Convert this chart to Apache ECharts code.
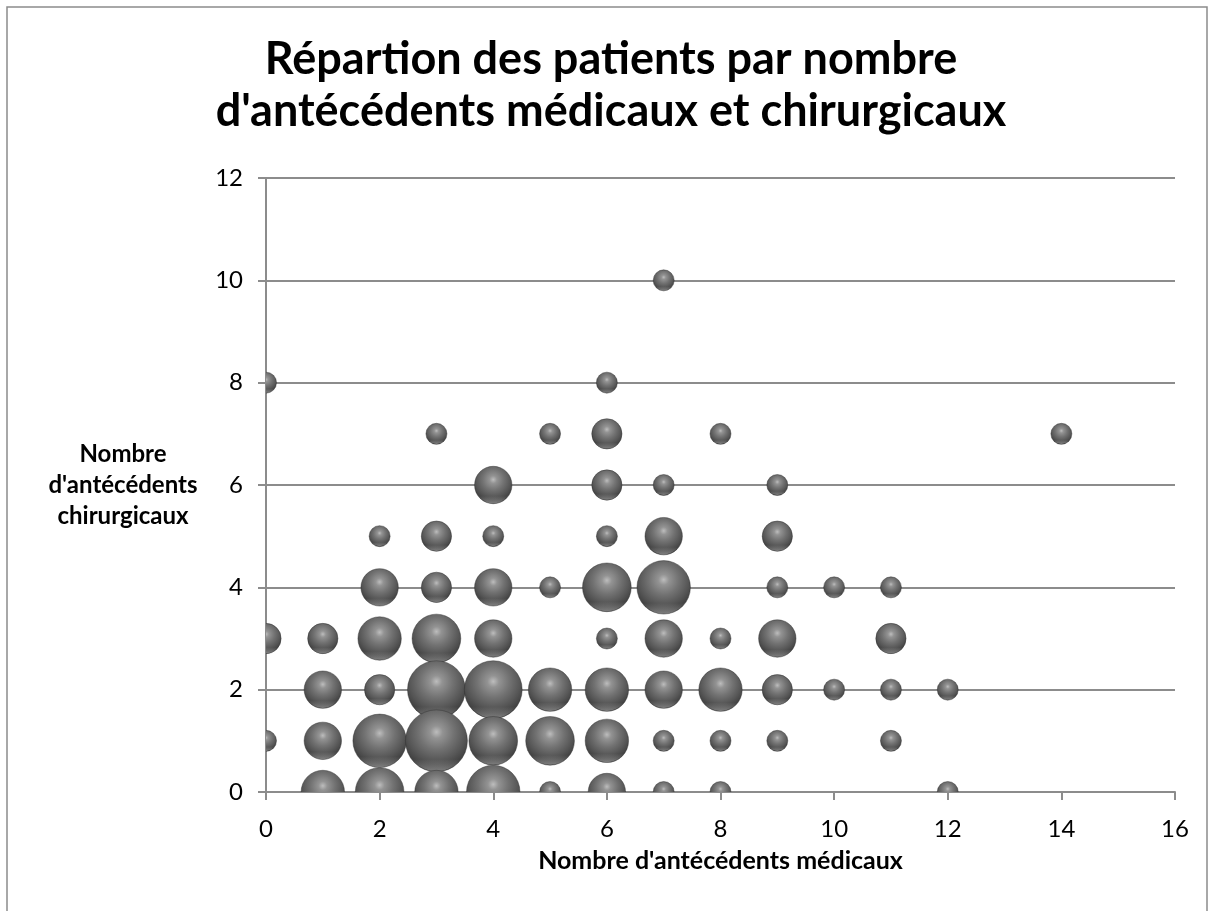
<!DOCTYPE html>
<html>
<head>
<meta charset="utf-8">
<script src="https://cdn.jsdelivr.net/npm/echarts@6/dist/echarts.min.js"></script>
<style>
html,body{margin:0;padding:0;background:#fff;}
#c{width:1214px;height:911px;}
</style>
</head>
<body>
<div id="c"></div>
<script>
// Number of medical history items (x), surgical history items (y), number of patients (bubble size)
const medical  = [0,0,0, 1,1,1,1, 2,2,2,2,2,2, 3,3,3,3,3,3,3, 4,4,4,4,4,4,4, 5,5,5,5,5, 6,6,6,6,6,6,6,6,6, 7,7,7,7,7,7,7,7, 8,8,8,8,8, 9,9,9,9,9,9, 10,10, 11,11,11,11, 12,12, 14];
const surgical = [8,3,1, 3,2,1,0, 5,4,3,2,1,0, 7,5,4,3,2,1,0, 6,5,4,3,2,1,0, 7,4,2,1,0, 8,7,6,5,4,3,2,1,0, 10,6,5,4,3,2,1,0, 7,3,2,1,0, 6,5,4,3,2,1, 4,2, 4,3,2,1, 2,0, 7];
const patients = [1,2,1, 2,3,3,4, 1,3,4,2,6,5, 1,2,2,5,7,8,4, 3,1,3,3,7,5,6, 1,1,4,5,1, 1,2,2,1,5,1,4,4,3, 1,1,3,6,3,3,1,1, 1,1,4,1,1, 1,2,1,3,2,1, 1,1, 1,2,1,1, 1,1, 1];

const titleText = "Répartion des patients par nombre\nd'antécédents médicaux et chirurgicaux";
const xName = "Nombre d'antécédents médicaux";
const yName = "Nombre\nd'antécédents\nchirurgicaux";

const data = medical.map((m, i) => [m, surgical[i], patients[i]]);

function bubbleDiameter(v) { return 22.4 * Math.sqrt(v) - 1.4; }

const FONT = 'Lato';
const AXIS_COLOR = '#8c8c8c';

const sphereFill = new echarts.graphic.RadialGradient(0.5, 0.36, 0.62, [
  { offset: 0, color: '#bdbdbd' },
  { offset: 0.16, color: '#939393' },
  { offset: 0.45, color: '#727272' },
  { offset: 0.75, color: '#555555' },
  { offset: 1, color: '#3a3a3a' }
]);
const rimFill = new echarts.graphic.LinearGradient(0, 0, 0, 1, [
  { offset: 0, color: 'rgba(200,200,200,0)' },
  { offset: 0.8, color: 'rgba(200,200,200,0)' },
  { offset: 1, color: 'rgba(210,210,210,0.45)' }
]);

const chart = echarts.init(document.getElementById('c'), null, { renderer: 'canvas' });
chart.setOption({
  backgroundColor: '#ffffff',
  animation: false,
  grid: { left: 266, right: 39, top: 178, bottom: 119, containLabel: false, outerBoundsMode: 'none' },
  graphic: [
    { type: 'rect', silent: true, shape: { x: 7, y: 7, width: 1200, height: 1000 },
      style: { fill: 'none', stroke: '#8c8c8c', lineWidth: 1.5 } },
    { type: 'text', silent: true, x: 611, y: 33,
      style: { text: titleText, textAlign: 'center', textVerticalAlign: 'top',
               fontFamily: FONT, fontWeight: 'bold', fontSize: 45, lineHeight: 52, fill: '#000' } }
  ],
  xAxis: {
    type: 'value', min: 0, max: 16, interval: 2,
    name: xName, nameLocation: 'middle', nameGap: 56,
    nameTextStyle: { fontFamily: FONT, fontWeight: 'bold', fontSize: 25, color: '#000' },
    axisLine: { show: true, onZero: false, lineStyle: { color: AXIS_COLOR, width: 2 } },
    axisTick: { show: true, inside: false, length: 8, lineStyle: { color: AXIS_COLOR, width: 2 } },
    splitLine: { show: false },
    axisLabel: { fontFamily: FONT, fontSize: 24, color: '#000', margin: 25, showMinLabel: true, showMaxLabel: true }
  },
  yAxis: {
    type: 'value', min: 0, max: 12, interval: 2,
    name: yName, nameLocation: 'middle', nameGap: 143, nameRotate: 0,
    nameTextStyle: { fontFamily: FONT, fontWeight: 'bold', fontSize: 24, color: '#000',
                     align: 'center', verticalAlign: 'middle', lineHeight: 31 },
    axisLine: { show: true, onZero: false, lineStyle: { color: AXIS_COLOR, width: 2 } },
    axisTick: { show: true, inside: false, length: 8, lineStyle: { color: AXIS_COLOR, width: 2 } },
    splitLine: { show: true, lineStyle: { color: AXIS_COLOR, width: 2 } },
    axisLabel: { fontFamily: FONT, fontSize: 24, color: '#000', margin: 23, showMinLabel: true, showMaxLabel: true }
  },
  series: [{
    type: 'custom',
    clip: true,
    data: data,
    encode: { x: 0, y: 1 },
    renderItem: function (params, api) {
      const pt = api.coord([api.value(0), api.value(1)]);
      const r = bubbleDiameter(api.value(2)) / 2;
      return {
        type: 'group',
        children: [
          { type: 'circle', shape: { cx: pt[0], cy: pt[1], r: r },
            style: { fill: sphereFill, stroke: 'rgba(45,45,45,0.55)', lineWidth: 0.8 } },
          { type: 'circle', shape: { cx: pt[0], cy: pt[1], r: r - 0.4 },
            style: { fill: rimFill } }
        ]
      };
    }
  }]
});
</script>
</body>
</html>
